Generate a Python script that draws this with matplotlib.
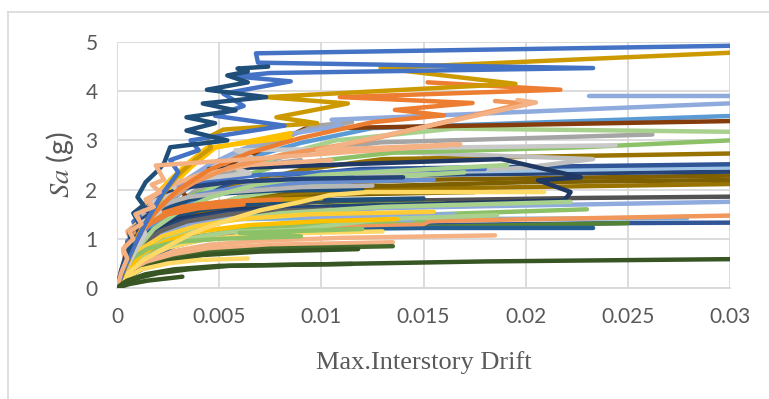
import matplotlib
matplotlib.use("Agg")
import matplotlib.pyplot as plt
from matplotlib.lines import Line2D

plt.rcParams["font.family"] = ["Lato", "DejaVu Sans"]
plt.rcParams["mathtext.fontset"] = "stix"

# ---- IDA records: max interstory drift vs. Sa (g) ----
run01_drift = [0, 0.0004, 0.0009, 0.0015, 0.0022, 0.0030, 0.0026, 0.0040, 0.0036, 0.0082, 0.0048, 0.0062, 0.0052, 0.0085, 0.0058, 0.0075, 0.0233, 0.0069, 0.0068, 0.031]
run01_sa = [0, 0.45, 0.9, 1.4, 1.9, 2.35, 2.6, 2.8, 3.0, 3.3, 3.5, 3.7, 3.95, 4.2, 4.3, 4.37, 4.47, 4.58, 4.77, 4.93]
run02_drift = [0, 0.0002, 0.0004, 0.0007, 0.0006, 0.0011, 0.0008, 0.0013, 0.0010, 0.0014, 0.0020, 0.0023, 0.0026, 0.0054, 0.0034, 0.0048, 0.0034, 0.0058, 0.0042, 0.0073, 0.0044, 0.0064, 0.0054, 0.0064, 0.0059, 0.0074]
run02_sa = [0, 0.35, 0.63, 0.9, 1.14, 1.3, 1.52, 1.68, 1.85, 2.15, 2.39, 2.53, 2.86, 3.0, 3.2, 3.35, 3.47, 3.61, 3.75, 3.88, 4.03, 4.18, 4.32, 4.4, 4.46, 4.5]
run03_drift = [0, 0.0004, 0.0008, 0.0012, 0.0018, 0.0024, 0.0030, 0.0038, 0.0046, 0.0044, 0.0052, 0.0098, 0.0078, 0.0113, 0.0073, 0.0195, 0.0129, 0.031]
run03_sa = [0, 0.4, 0.8, 1.2, 1.6, 2.0, 2.3, 2.6, 2.85, 3.05, 3.22, 3.35, 3.47, 3.75, 3.88, 4.15, 4.47, 4.8]
run04_drift = [0, 0.0003, 0.0007, 0.0012, 0.0020, 0.0030, 0.0045, 0.0065, 0.0090, 0.0125, 0.0160, 0.0136, 0.0174, 0.0109, 0.0217, 0.0152]
run04_sa = [0, 0.4, 0.8, 1.2, 1.6, 2.0, 2.4, 2.75, 3.05, 3.37, 3.51, 3.62, 3.76, 3.88, 4.03, 4.18]
run05_drift = [0, 0.0004, 0.0009, 0.0015, 0.0022, 0.0032, 0.0045, 0.0060, 0.0080, 0.0110, 0.0105, 0.031]
run05_sa = [0, 0.4, 0.85, 1.3, 1.75, 2.15, 2.5, 2.8, 3.1, 3.3, 3.42, 3.77]
run06_drift = [0.0231, 0.031]
run06_sa = [3.91, 3.91]
run07_drift = [0, 0.0002, 0.0005, 0.0003, 0.0008, 0.0006, 0.0012, 0.0009, 0.0018, 0.0014, 0.0021, 0.0017, 0.0023, 0.0019, 0.0168, 0.0098, 0.0205, 0.0196]
run07_sa = [0, 0.3, 0.6, 0.8, 1.0, 1.15, 1.3, 1.5, 1.65, 1.8, 1.95, 2.1, 2.2, 2.49, 2.92, 2.8, 3.77, 3.82]
run08_drift = [0, 0.0003, 0.0007, 0.0012, 0.0018, 0.0026, 0.0038, 0.0055, 0.0080, 0.0120, 0.0199, 0.0185]
run08_sa = [0, 0.35, 0.75, 1.15, 1.5, 1.85, 2.15, 2.45, 2.7, 2.98, 3.75, 3.8]
run09_drift = [0, 0.0005, 0.0012, 0.0020, 0.0030, 0.0045, 0.0065, 0.0090, 0.0125, 0.031]
run09_sa = [0, 0.5, 1.05, 1.5, 1.9, 2.3, 2.65, 2.95, 3.25, 3.51]
run10_drift = [0, 0.0004, 0.0009, 0.0016, 0.0012, 0.0026, 0.0020, 0.0034, 0.0030, 0.0048, 0.0058, 0.0075, 0.0092, 0.031]
run10_sa = [0, 0.4, 0.8, 1.0, 1.2, 1.45, 1.6, 1.85, 2.05, 2.3, 2.55, 2.9, 3.24, 3.4]
run11_drift = [0, 0.0004, 0.0010, 0.0018, 0.0030, 0.0045, 0.0060, 0.0080, 0.0107, 0.0165, 0.031]
run11_sa = [0, 0.35, 0.75, 1.15, 1.6, 2.0, 2.35, 2.7, 3.0, 3.24, 3.17]
run12_drift = [0, 0.0005, 0.0012, 0.0022, 0.0035, 0.0055, 0.0080, 0.0135, 0.0227, 0.031]
run12_sa = [0, 0.5, 1.0, 1.45, 1.85, 2.2, 2.5, 2.75, 2.86, 3.02]
run13_drift = [0, 0.0005, 0.0012, 0.0020, 0.0030, 0.0045, 0.0065, 0.0095, 0.0129, 0.0262]
run13_sa = [0, 0.45, 0.9, 1.35, 1.75, 2.15, 2.5, 2.8, 2.96, 3.12]
run14_drift = [0, 0.0004, 0.0009, 0.0014, 0.0011, 0.0021, 0.0017, 0.0030, 0.0026, 0.0065, 0.0057, 0.0066, 0.0058, 0.0244]
run14_sa = [0, 0.35, 0.75, 1.1, 1.3, 1.55, 1.75, 1.95, 2.15, 2.33, 2.45, 2.66, 2.8, 2.9]
run15_drift = [0, 0.0005, 0.0011, 0.0020, 0.0032, 0.0050, 0.0075, 0.0198, 0.0233, 0.0110]
run15_sa = [0, 0.4, 0.85, 1.25, 1.65, 1.95, 2.2, 2.44, 2.62, 2.8]
run16_drift = [0, 0.0005, 0.0013, 0.0024, 0.0040, 0.0060, 0.0090, 0.0130, 0.031]
run16_sa = [0, 0.45, 0.95, 1.4, 1.8, 2.1, 2.4, 2.62, 2.74]
run17_drift = [0, 0.0004, 0.0010, 0.0018, 0.0030, 0.0048, 0.0075, 0.0120, 0.031]
run17_sa = [0, 0.4, 0.85, 1.25, 1.65, 2.0, 2.25, 2.42, 2.52]
run18_drift = [0, 0.0005, 0.0012, 0.0022, 0.0036, 0.0055, 0.0085, 0.0140, 0.031]
run18_sa = [0, 0.45, 0.9, 1.3, 1.7, 2.0, 2.2, 2.35, 2.46]
run19_drift = [0, 0.0004, 0.0010, 0.0018, 0.0030, 0.0060, 0.0219, 0.0222, 0.0206, 0.0227, 0.0188, 0.0045]
run19_sa = [0, 0.4, 0.8, 1.15, 1.4, 1.6, 1.78, 1.95, 2.19, 2.25, 2.62, 2.42]
run20_drift = [0, 0.0004, 0.0009, 0.0016, 0.0026, 0.0040, 0.0060, 0.0100, 0.031]
run20_sa = [0, 0.45, 0.9, 1.3, 1.65, 1.95, 2.15, 2.28, 2.37]
run21_drift = [0, 0.0004, 0.0010, 0.0020, 0.0034, 0.0052, 0.0080, 0.0150, 0.031]
run21_sa = [0, 0.4, 0.85, 1.3, 1.7, 1.95, 2.1, 2.2, 2.29]
run22_drift = [0, 0.0005, 0.0013, 0.0025, 0.0040, 0.0065, 0.0110, 0.0200, 0.031]
run22_sa = [0, 0.4, 0.85, 1.25, 1.6, 1.9, 2.05, 2.15, 2.2]
run23_drift = [0, 0.0006, 0.0015, 0.0028, 0.0045, 0.0070, 0.0120, 0.031]
run23_sa = [0, 0.45, 0.9, 1.3, 1.6, 1.85, 2.0, 2.12]
run24_drift = [0, 0.0005, 0.0012, 0.0022, 0.0036, 0.0060, 0.0100, 0.0227, 0.031]
run24_sa = [0, 0.4, 0.8, 1.15, 1.45, 1.65, 1.75, 1.83, 1.86]
run25_drift = [0, 0.0005, 0.0012, 0.0022, 0.0035, 0.0055, 0.0085, 0.0125, 0.031]
run25_sa = [0, 0.35, 0.7, 1.0, 1.25, 1.42, 1.55, 1.62, 1.76]
run26_drift = [0, 0.0005, 0.0012, 0.0024, 0.0040, 0.0065, 0.0100, 0.0150, 0.0153, 0.031]
run26_sa = [0, 0.3, 0.6, 0.85, 1.05, 1.18, 1.26, 1.3, 1.36, 1.48]
run27_drift = [0, 0.0006, 0.0015, 0.0028, 0.0045, 0.0070, 0.0110, 0.0160, 0.0250, 0.031]
run27_sa = [0, 0.3, 0.6, 0.85, 1.02, 1.14, 1.22, 1.28, 1.32, 1.33]
run28_drift = [0, 0.0006, 0.0014, 0.0026, 0.0042, 0.0065, 0.0100, 0.0150, 0.0250]
run28_sa = [0, 0.35, 0.65, 0.88, 1.04, 1.14, 1.2, 1.24, 1.32]
run29_drift = [0, 0.0005, 0.0013, 0.0025, 0.0040, 0.0065, 0.0100, 0.0150, 0.0233]
run29_sa = [0, 0.35, 0.65, 0.9, 1.05, 1.15, 1.2, 1.22, 1.22]
run30_drift = [0, 0.0005, 0.0012, 0.0022, 0.0036, 0.0060, 0.0095, 0.0150, 0.0279]
run30_sa = [0, 0.4, 0.8, 1.1, 1.3, 1.4, 1.42, 1.4, 1.42]
run31_drift = [0, 0.0006, 0.0015, 0.0028, 0.0045, 0.0070, 0.0110, 0.0185]
run31_sa = [0, 0.3, 0.55, 0.75, 0.88, 0.96, 1.02, 1.07]
run32_drift = [0, 0.0006, 0.0015, 0.0028, 0.0045, 0.0075, 0.0135]
run32_sa = [0, 0.28, 0.5, 0.68, 0.8, 0.88, 0.93]
run33_drift = [0, 0.0006, 0.0015, 0.0028, 0.0045, 0.0075, 0.0135]
run33_sa = [0, 0.25, 0.45, 0.6, 0.72, 0.8, 0.85]
run34_drift = [0, 0.0005, 0.0013, 0.0025, 0.0042, 0.0070, 0.0118]
run34_sa = [0, 0.22, 0.4, 0.55, 0.67, 0.74, 0.79]
run35_drift = [0, 0.0004, 0.0012, 0.0020, 0.0035, 0.0055, 0.0180, 0.031]
run35_sa = [0, 0.12, 0.22, 0.3, 0.38, 0.45, 0.54, 0.59]
run36_drift = [0, 0.0005, 0.0014, 0.0028, 0.0050, 0.0115]
run36_sa = [0, 0.15, 0.28, 0.38, 0.45, 0.49]
run37_drift = [0, 0.0006, 0.0015, 0.0032]
run37_sa = [0, 0.08, 0.15, 0.23]
run38_drift = [0, 0.0004, 0.0013, 0.0025, 0.0037, 0.0052, 0.0070, 0.0090, 0.0104, 0.0123, 0.0209]
run38_sa = [0, 0.25, 0.57, 0.85, 1.12, 1.35, 1.58, 1.75, 1.89, 1.95, 1.95]
run39_drift = [0, 0.0004, 0.0012, 0.0025, 0.0040, 0.0064]
run39_sa = [0, 0.2, 0.38, 0.5, 0.57, 0.6]
run40_drift = [0, 0.0005, 0.0012, 0.0024, 0.0040, 0.0065, 0.0100, 0.0137]
run40_sa = [0, 0.35, 0.7, 0.95, 1.15, 1.28, 1.36, 1.4]
run41_drift = [0, 0.0004, 0.0010, 0.0020, 0.0032, 0.0050, 0.0080, 0.0130, 0.0222]
run41_sa = [0, 0.3, 0.6, 0.9, 1.14, 1.35, 1.52, 1.65, 1.75]
run42_drift = [0, 0.0005, 0.0012, 0.0022, 0.0035, 0.0055, 0.0086, 0.0130, 0.0186]
run42_sa = [0, 0.3, 0.55, 0.8, 1.0, 1.14, 1.18, 1.4, 1.48]
run43_drift = [0, 0.0004, 0.0010, 0.0018, 0.0030, 0.0046, 0.0068, 0.0100, 0.0191]
run43_sa = [0, 0.4, 0.8, 1.2, 1.55, 1.85, 2.1, 2.3, 2.5]
run44_drift = [0, 0.0003, 0.0008, 0.0015, 0.0028, 0.0050, 0.0090, 0.0060, 0.0120]
run44_sa = [0, 0.35, 0.62, 0.8, 0.93, 1.0, 1.05, 1.12, 1.2]
run45_drift = [0, 0.0005, 0.0012, 0.0022, 0.0038, 0.0060, 0.0095, 0.0155]
run45_sa = [0, 0.4, 0.8, 1.05, 1.25, 1.4, 1.5, 1.55]
run46_drift = [0, 0.0004, 0.0010, 0.0018, 0.0030, 0.0048, 0.0075, 0.0110, 0.0165]
run46_sa = [0, 0.4, 0.8, 1.1, 1.35, 1.5, 1.6, 1.66, 1.7]
run47_drift = [0, 0.0004, 0.0011, 0.0021, 0.0034, 0.0055, 0.0080, 0.0105]
run47_sa = [0, 0.45, 0.85, 1.15, 1.35, 1.5, 1.57, 1.6]
run48_drift = [0, 0.0003, 0.0006, 0.0010, 0.0008, 0.0015, 0.0012, 0.0022, 0.0035, 0.0055, 0.0090, 0.0125]
run48_sa = [0, 0.45, 0.8, 1.05, 1.2, 1.4, 1.55, 1.7, 1.85, 1.95, 2.05, 2.08]
run49_drift = [0, 0.0003, 0.0008, 0.0015, 0.0024, 0.0036, 0.0052, 0.0075, 0.0120]
run49_sa = [0, 0.45, 0.9, 1.3, 1.6, 1.8, 1.92, 1.98, 2.0]
run50_drift = [0, 0.0002, 0.0005, 0.0004, 0.0009, 0.0016, 0.0025, 0.0040, 0.0062]
run50_sa = [0, 0.35, 0.7, 0.85, 1.05, 1.3, 1.5, 1.62, 1.7]
run51_drift = [0, 0.0004, 0.0009, 0.0016, 0.0026, 0.0040, 0.0060, 0.0095, 0.0155]
run51_sa = [0, 0.45, 0.9, 1.3, 1.65, 1.9, 2.05, 2.15, 2.2]
run52_drift = [0, 0.0003, 0.0006, 0.0005, 0.0010, 0.0016, 0.0025, 0.0040, 0.0065, 0.0100]
run52_sa = [0, 0.4, 0.75, 0.9, 1.1, 1.35, 1.55, 1.7, 1.78, 1.82]
run53_drift = [0, 0.0004, 0.0009, 0.0016, 0.0025, 0.0036, 0.0048, 0.0085]
run53_sa = [0, 0.5, 1.0, 1.5, 2.0, 2.45, 2.85, 3.15]
run54_drift = [0, 0.0004, 0.0010, 0.0018, 0.0028, 0.0042, 0.0062, 0.0098, 0.0115]
run54_sa = [0, 0.45, 0.9, 1.4, 1.85, 2.3, 2.75, 3.3, 3.37]
run55_drift = [0, 0.0003, 0.0007, 0.0012, 0.0010, 0.0018, 0.0026, 0.0035, 0.0044, 0.0085]
run55_sa = [0, 0.45, 0.9, 1.3, 1.5, 1.85, 2.2, 2.55, 2.85, 3.06]
run56_drift = [0, 0.0002, 0.0004, 0.0003, 0.0007, 0.0005, 0.0011, 0.0009, 0.0016, 0.0024, 0.0040, 0.0065, 0.0105]
run56_sa = [0, 0.3, 0.55, 0.75, 0.95, 1.15, 1.35, 1.55, 1.8, 2.05, 2.3, 2.5, 2.6]
run57_drift = [0, 0.0004, 0.0010, 0.0018, 0.0028, 0.0042, 0.0060, 0.0090, 0.0130, 0.0170]
run57_sa = [0, 0.3, 0.65, 1.0, 1.3, 1.6, 1.85, 2.05, 2.25, 2.35]
run58_drift = [0, 0.0003, 0.0006, 0.0005, 0.0010, 0.0008, 0.0015, 0.0022, 0.0032, 0.0048, 0.0070, 0.0120, 0.0180]
run58_sa = [0, 0.4, 0.75, 0.95, 1.15, 1.35, 1.6, 1.85, 2.05, 2.2, 2.3, 2.38, 2.42]
run59_drift = [0, 0.0004, 0.0010, 0.0018, 0.0030, 0.0050, 0.0080, 0.0120, 0.0144, 0.0090, 0.0165]
run59_sa = [0, 0.35, 0.7, 1.0, 1.25, 1.42, 1.52, 1.58, 1.38, 1.45, 1.5]
run60_drift = [0, 0.0005, 0.0013, 0.0025, 0.0042, 0.0065, 0.0095, 0.0130]
run60_sa = [0, 0.3, 0.6, 0.82, 0.98, 1.08, 1.12, 1.15]
run61_drift = [0, 0.0004, 0.0011, 0.0020, 0.0033, 0.0050, 0.0075, 0.0110, 0.0160]
run61_sa = [0, 0.35, 0.7, 1.0, 1.25, 1.45, 1.6, 1.68, 1.72]
run62_drift = [0, 0.0003, 0.0007, 0.0005, 0.0011, 0.0009, 0.0016, 0.0013, 0.0022, 0.0035, 0.0055, 0.0090, 0.0140]
run62_sa = [0, 0.35, 0.7, 0.9, 1.1, 1.3, 1.5, 1.7, 1.9, 2.05, 2.15, 2.22, 2.25]
run63_drift = [0, 0.0003, 0.0008, 0.0006, 0.0012, 0.0020, 0.0032, 0.0050, 0.0080]
run63_sa = [0, 0.45, 0.85, 1.1, 1.3, 1.5, 1.65, 1.75, 1.8]
run64_drift = [0, 0.0004, 0.0010, 0.0018, 0.0028, 0.0040, 0.0060, 0.0090]
run64_sa = [0, 0.5, 1.0, 1.45, 1.85, 2.2, 2.45, 2.6]
run65_drift = [0, 0.0004, 0.0010, 0.0019, 0.0030, 0.0046, 0.0070, 0.0110, 0.0175]
run65_sa = [0, 0.35, 0.7, 1.05, 1.35, 1.6, 1.78, 1.9, 1.95]
run66_drift = [0, 0.0005, 0.0013, 0.0024, 0.0040, 0.0062, 0.0095, 0.0150, 0.0120, 0.0230]
run66_sa = [0, 0.3, 0.6, 0.85, 1.05, 1.2, 1.3, 1.38, 1.45, 1.6]
run67_drift = [0, 0.0004, 0.0009, 0.0016, 0.0026, 0.0040, 0.0062, 0.0095, 0.0150]
run67_sa = [0, 0.4, 0.8, 1.15, 1.4, 1.58, 1.7, 1.78, 1.82]
run68_drift = [0, 0.0004, 0.0010, 0.0019, 0.0032, 0.0050, 0.0078, 0.0115]
run68_sa = [0, 0.45, 0.9, 1.3, 1.65, 1.95, 2.15, 2.28]

# drawing order (first drawn = bottom) and line colour of each record
records = [
    (run27_drift, run27_sa, "#2F5597"), (run28_drift, run28_sa, "#548235"),
    (run29_drift, run29_sa, "#255E91"), (run30_drift, run30_sa, "#7CAFDD"),
    (run26_drift, run26_sa, "#F1975A"), (run25_drift, run25_sa, "#8FAADC"),
    (run24_drift, run24_sa, "#525252"), (run23_drift, run23_sa, "#997300"),
    (run22_drift, run22_sa, "#7F6000"), (run21_drift, run21_sa, "#806000"),
    (run20_drift, run20_sa, "#264478"), (run18_drift, run18_sa, "#9DC3E6"),
    (run17_drift, run17_sa, "#2F5597"), (run16_drift, run16_sa, "#997300"),
    (run13_drift, run13_sa, "#A5A5A5"), (run15_drift, run15_sa, "#BFBFBF"),
    (run12_drift, run12_sa, "#8CC168"), (run11_drift, run11_sa, "#A9D18E"),
    (run09_drift, run09_sa, "#5B9BD5"), (run10_drift, run10_sa, "#843C0C"),
    (run54_drift, run54_sa, "#A5A5A5"), (run05_drift, run05_sa, "#8FAADC"),
    (run06_drift, run06_sa, "#8FAADC"), (run53_drift, run53_sa, "#FFC000"),
    (run55_drift, run55_sa, "#FFC000"), (run64_drift, run64_sa, "#A5A5A5"),
    (run68_drift, run68_sa, "#5B9BD5"), (run58_drift, run58_sa, "#4472C4"),
    (run57_drift, run57_sa, "#A9D18E"), (run65_drift, run65_sa, "#7F6000"),
    (run67_drift, run67_sa, "#1F4E79"), (run61_drift, run61_sa, "#70AD47"),
    (run66_drift, run66_sa, "#8CC168"), (run59_drift, run59_sa, "#8FAADC"),
    (run60_drift, run60_sa, "#FFD966"),
    (run51_drift, run51_sa, "#698ED0"), (run49_drift, run49_sa, "#1F4E79"),
    (run19_drift, run19_sa, "#203864"), (run46_drift, run46_sa, "#264478"),
    (run47_drift, run47_sa, "#636363"), (run48_drift, run48_sa, "#B7B7B7"),
    (run43_drift, run43_sa, "#A9D18E"), (run41_drift, run41_sa, "#A9D18E"),
    (run42_drift, run42_sa, "#A9D18E"), (run45_drift, run45_sa, "#FFCD33"),
    (run40_drift, run40_sa, "#FFC000"), (run31_drift, run31_sa, "#F4B183"),
    (run32_drift, run32_sa, "#F4B183"), (run33_drift, run33_sa, "#43682B"),
    (run34_drift, run34_sa, "#375623"), (run44_drift, run44_sa, "#8CC168"),
    (run39_drift, run39_sa, "#FFD966"), (run52_drift, run52_sa, "#CC9A00"),
    (run50_drift, run50_sa, "#ED7D31"), (run63_drift, run63_sa, "#ED7D31"),
    (run62_drift, run62_sa, "#264478"), (run14_drift, run14_sa, "#C9C9C9"),
    (run56_drift, run56_sa, "#F4B183"),
    (run38_drift, run38_sa, "#FFD966"), (run08_drift, run08_sa, "#F1975A"),
    (run04_drift, run04_sa, "#ED7D31"), (run03_drift, run03_sa, "#CC9A00"),
    (run01_drift, run01_sa, "#4472C4"), (run02_drift, run02_sa, "#1F4E79"),
    (run07_drift, run07_sa, "#F4B183"), (run36_drift, run36_sa, "#375623"),
    (run37_drift, run37_sa, "#375623"), (run35_drift, run35_sa, "#375623"),
]

x_ticks = [0, 0.005, 0.01, 0.015, 0.02, 0.025, 0.03]
x_tick_labels = ["0", "0.005", "0.01", "0.015", "0.02", "0.025", "0.03"]
y_ticks = [0, 1, 2, 3, 4, 5]

fig = plt.figure(figsize=(7.69, 3.99), dpi=100)
ax = fig.add_axes([117 / 769, 1 - 288 / 399, 613 / 769, 246 / 399])

for drift, sa, color in records:
    ax.plot(drift, sa, color=color, lw=3.2, solid_capstyle="round",
            solid_joinstyle="round", zorder=3)

ax.set_xlim(0, 0.03)
ax.set_ylim(0, 5)
ax.set_xticks(x_ticks)
ax.set_xticklabels(x_tick_labels)
ax.set_yticks(y_ticks)
ax.grid(True, color="#D9D9D9", lw=1.3, zorder=0)
ax.set_axisbelow(True)
for side in ["top", "right", "left"]:
    ax.spines[side].set_visible(False)
ax.spines["bottom"].set_color("#D9D9D9")
ax.spines["bottom"].set_linewidth(1.3)
ax.tick_params(length=0, labelsize=15, labelcolor="#595959", pad=14)

ax.set_xlabel("Max.Interstory Drift", family="Liberation Serif",
              fontsize=19, color="#595959", labelpad=17)
ax.set_ylabel(r"$Sa$ (g)", fontsize=20.5, color="#595959", labelpad=7)

# chart frame
fig.add_artist(Line2D([8 / 769, 1], [1 - 12 / 399] * 2, color="#D9D9D9", lw=1.2))
fig.add_artist(Line2D([8 / 769] * 2, [0, 1 - 12 / 399], color="#D9D9D9", lw=1.2))

fig.savefig("out.png", dpi=100)
